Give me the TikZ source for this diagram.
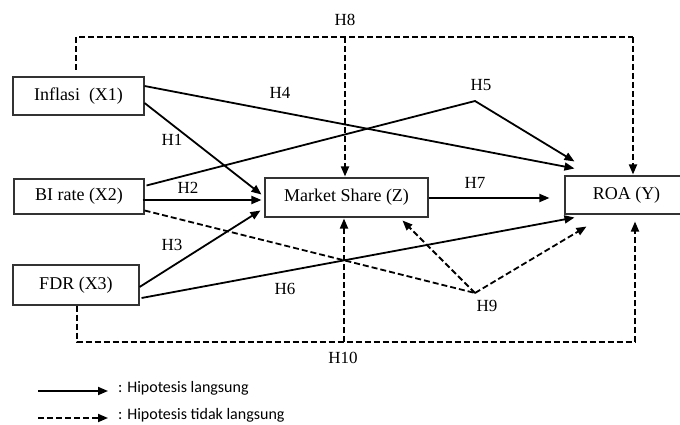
\documentclass[tikz,border=0pt]{standalone}
\usepackage{fontspec}
\setmainfont{Liberation Serif}
\newfontfamily\legendfont{Carlito}
\usetikzlibrary{arrows.meta,calc}
\tikzset{
  box/.style={draw=black!80,line width=1.1pt,fill=white,inner sep=0pt,font=\fontsize{18}{20}\selectfont},
  solidarr/.style={line width=1.8pt,-{Triangle[length=10pt,width=8pt]}},
  dasharr/.style={line width=1.8pt,dash pattern=on 6pt off 3pt,-{Triangle[length=10pt,width=8pt]}},
  dashline/.style={line width=1.8pt,dash pattern=on 6pt off 3pt},
  lbl/.style={font=\fontsize{17}{19}\selectfont,inner sep=0pt},
  leg/.style={font=\legendfont\fontsize{16}{18}\selectfont,inner sep=0pt,anchor=west}
}
\begin{document}
\begin{tikzpicture}[x=1pt,y=-1pt]
\useasboundingbox (0,0) rectangle (680,425);
% boxes
\node[box,minimum width=131pt,minimum height=38pt] (x1) at (78.5,96) {Inflasi\ \ (X1)};
\node[box,minimum width=130pt,minimum height=35pt] (x2) at (79,196.5) {BI rate (X2)};
\node[box,minimum width=126pt,minimum height=40pt] (x3) at (76,285) {FDR (X3)};
\node[box,minimum width=163pt,minimum height=39pt] (z) at (346.5,197.5) {Market Share (Z)};
\node[box,minimum width=123pt,minimum height=38pt] (y) at (626.5,195) {ROA (Y)};
% helper coordinates
\coordinate (h5) at (475,101);
\coordinate (h9) at (475,293);
\coordinate (t8a) at (76,70);
\coordinate (c8l) at (76,37);
\coordinate (c8m) at (345,37);
\coordinate (c8r) at (633,37);
\coordinate (c10l) at (77,342);
\coordinate (c10m) at (344,342);
\coordinate (c10r) at (635,342);
% direct hypotheses
\draw[solidarr] ($(x1.east)+(0,7)$) -- ($(z.west)+(-3,-3)$);
\draw[solidarr] ($(x1.east)+(0,-10)$) -- ($(y.north west)+(10,-7)$);
\draw[solidarr] ($(x2.east)+(2,-11)$) -- (h5) -- ($(y.north west)+(10,-14)$);
\draw[solidarr] ($(x2.east)+(-2,3.5)$) -- ($(z.west)+(-3,2.5)$);
\draw[solidarr] ($(x3.east)+(0,2)$) -- ($(z.west)+(-4,13)$);
\draw[solidarr] ($(x3.east)+(2,13)$) -- ($(y.south west)+(10,3)$);
\draw[solidarr] ($(z.east)+(0,0.5)$) -- ($(y.west)+(-15,3)$);
% indirect hypotheses
\draw[dashline] ($(x2.east)+(0,14)$) -- (h9);
\draw[dasharr] (h9) -- ($(z.south east)+(-26,3)$);
\draw[dasharr] (h9) -- ($(y.south west)+(22,12)$);
\draw[dashline] (t8a) -- (c8l) -- (c8r);
\draw[dasharr] (c8r) -- ($(y.north)+(6.5,-1)$);
\draw[dasharr] (c8m) -- ($(z.north)+(-1.5,-1)$);
\draw[dashline] ($(x3.south)+(1,0)$) -- (c10l) -- (c10r);
\draw[dasharr] (c10r) -- ($(y.south)+(8.5,7)$);
\draw[dasharr] (c10m) -- ($(z.south)+(-2.5,1)$);
% labels
\node[lbl] (l8) at (345,20) {H8};
\node[lbl] (l4) at (280,93) {H4};
\node[lbl] (l1) at (172,140) {H1};
\node[lbl] (l5) at (481,85) {H5};
\node[lbl] (l2) at (188,188) {H2};
\node[lbl] (l7) at (475,183) {H7};
\node[lbl] (l3) at (172,245) {H3};
\node[lbl] (l6) at (285,289) {H6};
\node[lbl] (l9) at (487,306) {H9};
\node[lbl] (l10) at (343,358) {H10};
% legend
\coordinate (ls1) at (38,391);
\coordinate (le1) at (108,391);
\coordinate (ls2) at (38,418);
\coordinate (le2) at (108,418);
\draw[solidarr] (ls1) -- (le1);
\draw[dasharr] (ls2) -- (le2);
\node[leg] (t1) at (118,388) {: Hipotesis langsung};
\node[leg] (t2) at (118,415) {: Hipotesis tidak langsung};
\end{tikzpicture}
\end{document}
